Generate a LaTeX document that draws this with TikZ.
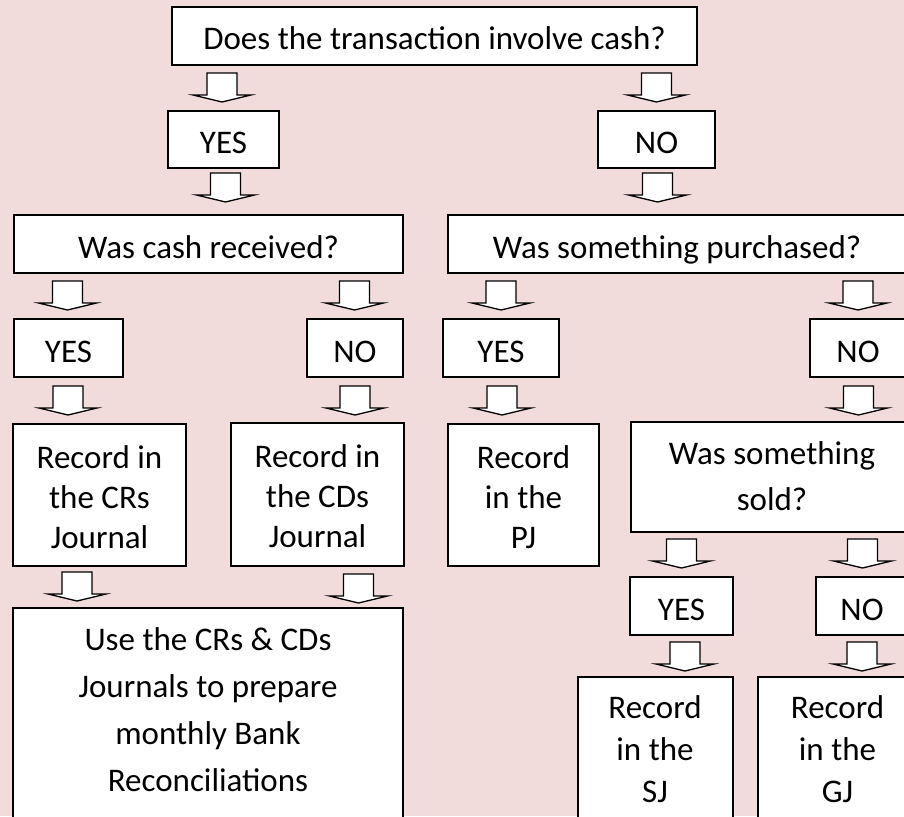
\documentclass[tikz,border=0pt]{standalone}
\usepackage{fontspec}
\setmainfont{Carlito}
\usetikzlibrary{fit}
\definecolor{bg}{HTML}{F2DCDB}
\begin{document}
\begin{tikzpicture}[x=1pt,y=-1pt,
  box/.style={draw=black, line width=1.6pt, fill=white, inner sep=0pt, rectangle},
  txt/.style={anchor=base, align=center, inner sep=0pt, font=\fontsize{33}{40}\selectfont},
  barrow/.pic={\draw[line width=1.3pt, fill=white, line join=miter]
     (-15,0) -- (-15,22) -- (-29,22) -- (0,29) -- (29,22) -- (15,22) -- (15,0) -- cycle;}]
\useasboundingbox[fill=bg] (0,0) rectangle (904,816);
\clip (0,0) rectangle (904,816);
% boxes
\node[box, fit={(172,7) (697,65)}] (q1) {};
\node[box, fit={(168,111) (279,168)}] (y1) {};
\node[box, fit={(598,111) (715,168)}] (n1) {};
\node[box, fit={(14,215) (403,273)}] (q2) {};
\node[box, fit={(448,215) (908,273)}] (q3) {};
\node[box, fit={(14,319) (123,377)}] (y2) {};
\node[box, fit={(307,319) (403,377)}] (n2) {};
\node[box, fit={(443,319) (559,377)}] (y3) {};
\node[box, fit={(810,319) (908,377)}] (n3) {};
\node[box, fit={(13,424) (186,566)}] (crs) {};
\node[box, fit={(231,423) (404,566)}] (cds) {};
\node[box, fit={(448,424) (599,566)}] (pj) {};
\node[box, fit={(631,422) (908,532)}] (q4) {};
\node[box, fit={(630,577) (733,635)}] (y4) {};
\node[box, fit={(816,577) (908,635)}] (n4) {};
\node[box, fit={(13,608) (403,840)}] (bank) {};
\node[box, fit={(578,677) (733,840)}] (sj) {};
\node[box, fit={(758,677) (908,840)}] (gj) {};
% texts (base anchor = baseline of the last line)
\node[txt] (q1t) at (434.5,50) {Does the transaction involve cash?};
\node[txt] (y1t) at (223.5,153) {YES};
\node[txt] (n1t) at (656.5,153) {NO};
\node[txt] (q2t) at (208.5,258) {Was cash received?};
\node[txt] (q3t) at (677,258) {Was something purchased?};
\node[txt] (y2t) at (68.5,362) {YES};
\node[txt] (n2t) at (355,362) {NO};
\node[txt] (y3t) at (501,362) {YES};
\node[txt] (n3t) at (858,362) {NO};
\node[txt] (crst) at (99.5,548) {Record in\\the CRs\\Journal};
\node[txt] (cdst) at (317.5,547) {Record in\\the CDs\\Journal};
\node[txt] (pjt) at (523.5,548) {Record\\in the\\PJ};
\node[txt, font=\fontsize{33}{46}\selectfont] (q4t) at (772,510) {Was something\\sold?};
\node[txt] (y4t) at (681.5,620) {YES};
\node[txt] (n4t) at (862,620) {NO};
\node[txt, font=\fontsize{33}{47}\selectfont] (bankt) at (208,791) {Use the CRs \& CDs\\Journals to prepare\\monthly Bank\\Reconciliations};
\node[txt, font=\fontsize{33}{42}\selectfont] (sjt) at (655,802) {Record\\in the\\SJ};
\node[txt, font=\fontsize{33}{42}\selectfont] (gjt) at (837.5,802) {Record\\in the\\GJ};
% block arrows
\pic at (222,73) {barrow};
\pic at (656.5,73) {barrow};
\pic at (225.5,173) {barrow};
\pic at (657.5,173) {barrow};
\pic at (67.5,281) {barrow};
\pic at (354.5,281) {barrow};
\pic at (501,281) {barrow};
\pic at (858,281) {barrow};
\pic at (68,386) {barrow};
\pic at (355,386) {barrow};
\pic at (502,386) {barrow};
\pic at (858.5,386) {barrow};
\pic at (77,572) {barrow};
\pic at (358.5,574) {barrow};
\pic at (681.5,539) {barrow};
\pic at (862.5,539) {barrow};
\pic at (685,642) {barrow};
\pic at (862,642) {barrow};
\end{tikzpicture}
\end{document}
